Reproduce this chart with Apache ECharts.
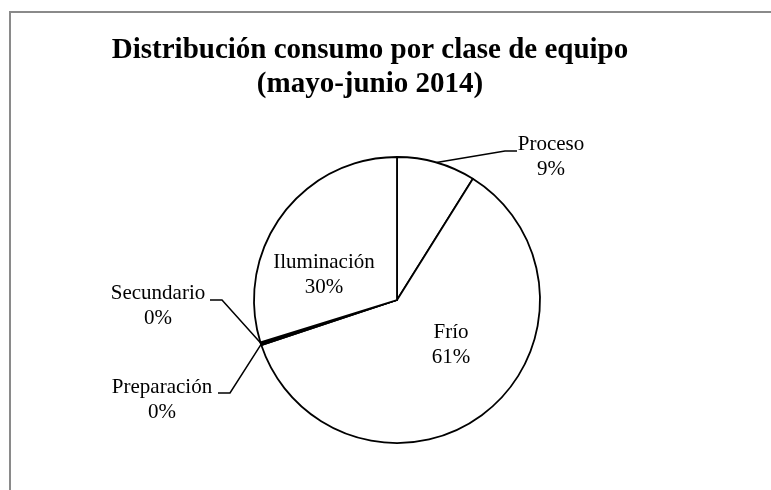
<!DOCTYPE html>
<html><head><meta charset="utf-8">
<script src="https://cdn.jsdelivr.net/npm/echarts@6/dist/echarts.min.js"></script>
<style>html,body{margin:0;padding:0;background:#fff}#c{width:771px;height:490px}</style>
</head><body><div id="c"></div>
<script>
const categories = ['Proceso', 'Frío', 'Preparación', 'Secundario', 'Iluminación'];
const values = [8.9, 61.0, 0.15, 0.15, 29.8];
const titleLines = ['Distribución consumo por clase de equipo', '(mayo-junio 2014)'];

// label placement (label centre + leader-line bends), not data
const labelPlacement = [
  { x: 551, y: 157, bends: [[505, 151], [517, 151]] },
  { x: 451, y: 345 },
  { x: 162, y: 400, bends: [[230, 393], [218, 393]] },
  { x: 158, y: 306, bends: [[222, 300], [210, 300]] },
  { x: 324, y: 275 }
];
const insideLabels = ['Frío', 'Iluminación'];

const chart = echarts.init(document.getElementById('c'), null, { renderer: 'canvas' });
const serif = '"Liberation Serif", "Times New Roman", serif';

chart.setOption({
  animation: false,
  backgroundColor: '#fff',
  graphic: [{
    type: 'rect', silent: true,
    shape: { x: 10, y: 12, width: 800, height: 520 },
    style: { fill: 'none', stroke: '#8a8a8a', lineWidth: 2 }
  }],
  title: {
    text: titleLines.join('\n'),
    left: 370, top: 34, padding: 0,
    textAlign: 'center',
    textStyle: { fontFamily: serif, fontWeight: 'bold', fontSize: 29, lineHeight: 34, color: '#000' }
  },
  series: [{
    type: 'pie',
    center: [397, 300],
    radius: 143,
    startAngle: 90,
    clockwise: true,
    avoidLabelOverlap: false,
    percentPrecision: 0,
    itemStyle: { color: '#fff', borderColor: '#000', borderWidth: 1.8 },
    emphasis: { disabled: true },
    label: {
      formatter: '{b}\n{d}%',
      fontFamily: serif, fontSize: 21, lineHeight: 25, color: '#000',
      align: 'center'
    },
    labelLine: { show: true, lineStyle: { color: '#000', width: 1.5 } },
    labelLayout: function (p) {
      const pl = labelPlacement[p.dataIndex];
      const out = { x: pl.x, y: pl.y, align: 'center', verticalAlign: 'middle' };
      if (pl.bends && p.labelLinePoints) {
        out.labelLinePoints = [p.labelLinePoints[0], pl.bends[0], pl.bends[1]];
      }
      return out;
    },
    data: categories.map((name, i) => {
      const inside = insideLabels.indexOf(name) >= 0;
      return {
        name: name, value: values[i],
        label: { position: inside ? 'inside' : 'outside' },
        labelLine: { show: !inside }
      };
    })
  }]
});
</script></body></html>
